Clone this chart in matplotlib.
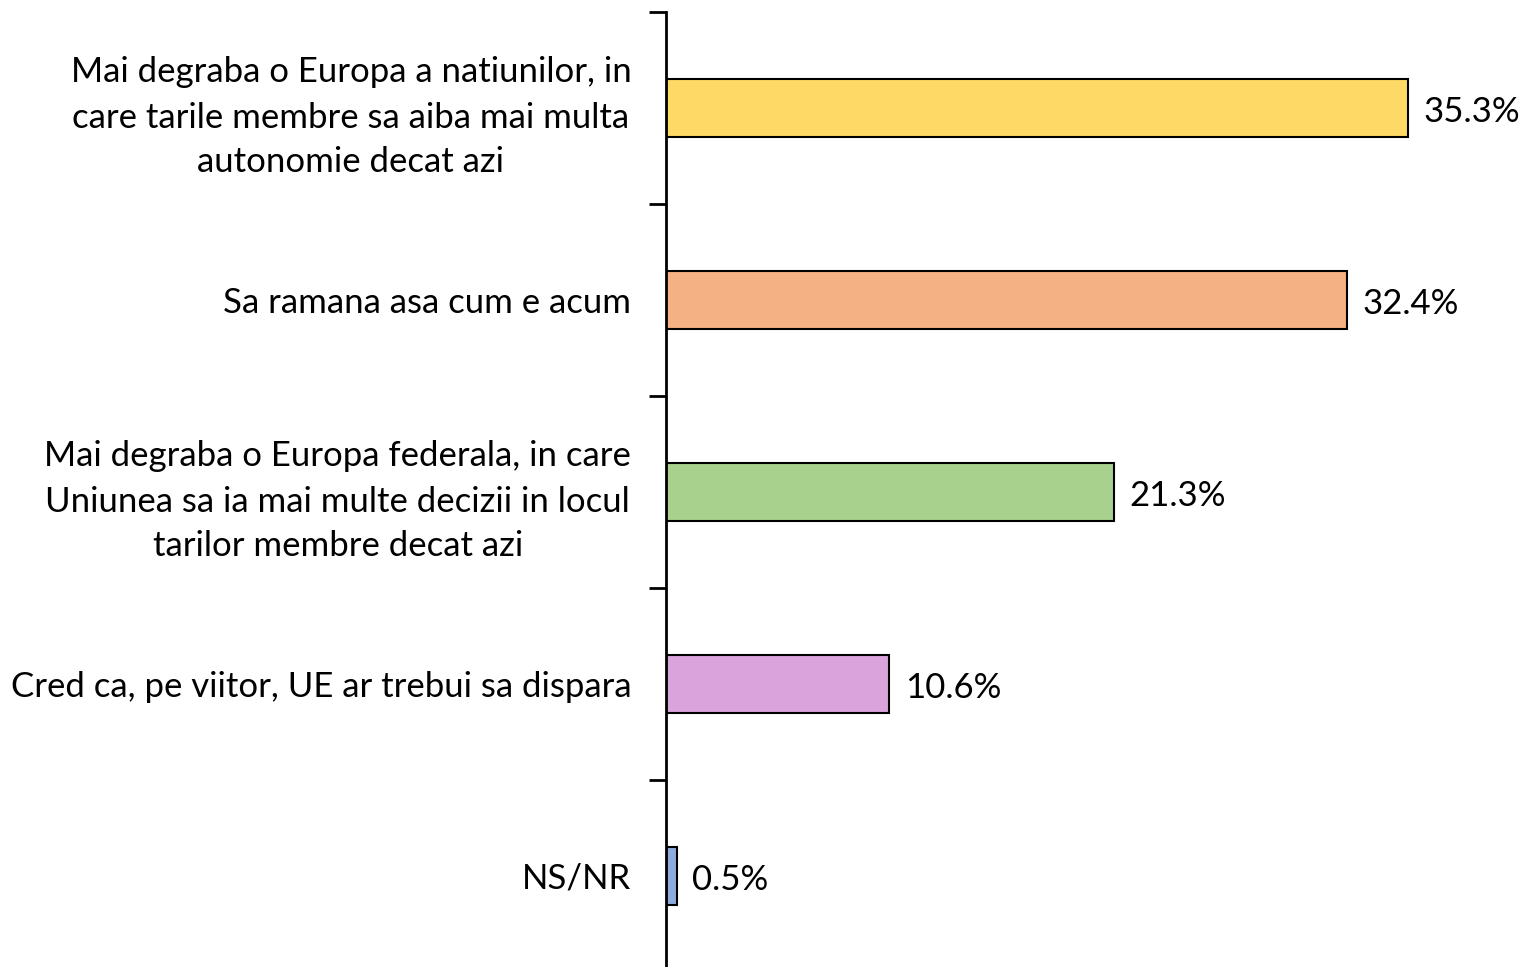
import matplotlib.pyplot as plt

categories = [
    "Mai degraba o Europa a natiunilor, in\ncare tarile membre sa aiba mai multa\nautonomie decat azi",
    "Sa ramana asa cum e acum",
    "Mai degraba o Europa federala, in care\nUniunea sa ia mai multe decizii in locul\ntarilor membre decat azi",
    "Cred ca, pe viitor, UE ar trebui sa dispara",
    "NS/NR",
]
values = [35.3, 32.4, 21.3, 10.6, 0.5]
colors = ["#FFD966", "#F4B183", "#A9D18E", "#D9A3DB", "#8FAADC"]


def main():
    plt.rcParams['font.family'] = ['Lato', 'DejaVu Sans']
    fig = plt.figure(figsize=(15.26, 9.67), dpi=100)
    ax = fig.add_axes([666 / 1526, -5 / 967, (1507 - 666) / 1526, 960 / 967])

    ypos = list(range(len(categories)))
    ax.barh(ypos, values, height=0.3, color=colors, edgecolor='black', linewidth=1.5)
    ax.set_ylim(len(categories) - 0.5, -0.5)
    ax.set_xlim(0, 40)

    for y, v in zip(ypos, values):
        ax.text(v + 0.75, y + 0.02, f'{v:.1f}%', va='center', ha='left', fontsize=25, clip_on=False)

    ax.set_yticks(ypos)
    ax.set_yticklabels(categories, fontsize=25, multialignment='center', linespacing=1.5)
    ax.tick_params(axis='y', which='major', length=0, pad=25)
    ax.set_yticks([y - 0.5 for y in range(len(categories) + 1)], minor=True)
    ax.tick_params(axis='y', which='minor', length=12, width=2, direction='out')

    ax.set_xticks([])
    for s in ['top', 'right', 'bottom']:
        ax.spines[s].set_visible(False)
    ax.spines['left'].set_linewidth(2)

    fig.savefig('out.png', dpi=100)


if __name__ == '__main__':
    main()
